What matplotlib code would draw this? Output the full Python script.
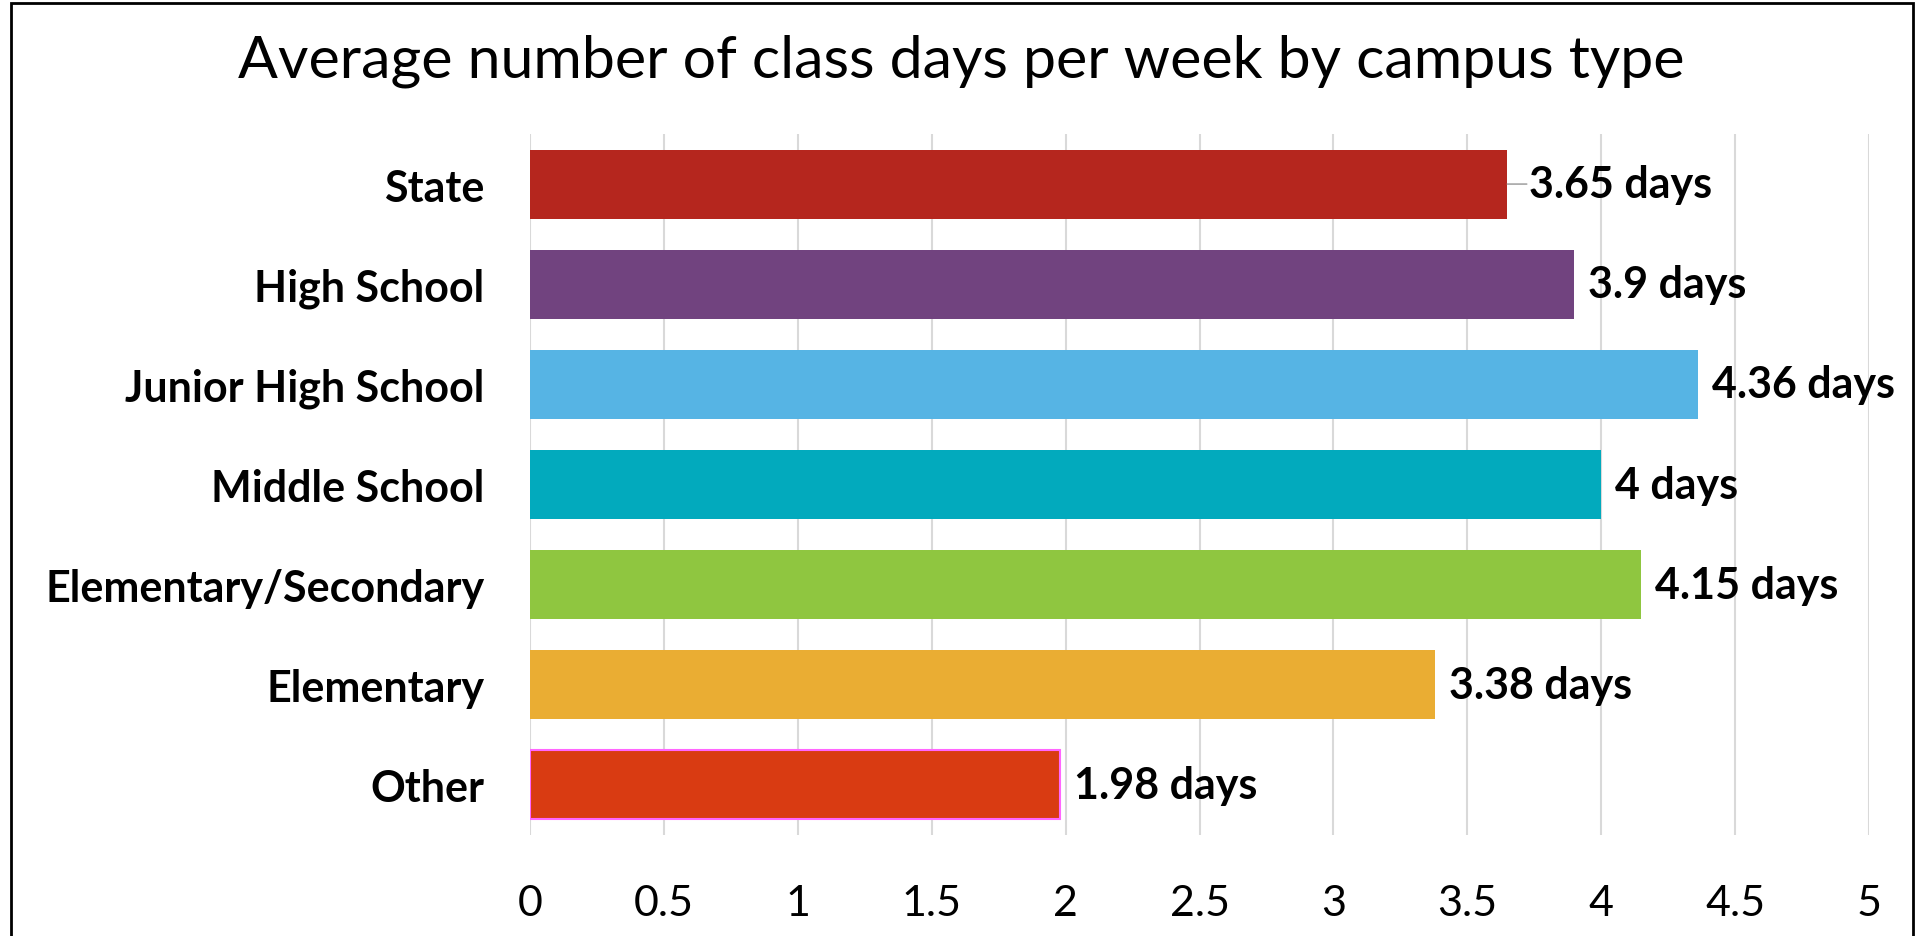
import matplotlib
matplotlib.use("Agg")
import matplotlib.pyplot as plt
from matplotlib.patches import Rectangle

plt.rcParams['font.family'] = ['Lato', 'DejaVu Sans']

# data
categories = ["State", "High School", "Junior High School", "Middle School",
              "Elementary/Secondary", "Elementary", "Other"]
days = [3.65, 3.9, 4.36, 4.0, 4.15, 3.38, 1.98]
labels = ["3.65 days", "3.9 days", "4.36 days", "4 days", "4.15 days", "3.38 days", "1.98 days"]
colors = ["#B5261E", "#71437F", "#56B4E4", "#02AABD", "#8FC640", "#EAAD33", "#D93B12"]
xticks = [0, 0.5, 1, 1.5, 2, 2.5, 3, 3.5, 4, 4.5, 5]

W, H = 1923, 937
fig = plt.figure(figsize=(W / 100, H / 100), dpi=100)
ax = fig.add_axes([530 / W, 1 - 836 / H, (1869 - 530) / W, (836 - 135) / H])

y = list(range(len(categories)))
edges = ["none"] * (len(categories) - 1) + ["#FF66FF"]
ax.barh(y, days, height=0.69, color=colors, edgecolor=edges, linewidth=1.5, zorder=3)

for i, (v, lab) in enumerate(zip(days, labels)):
    if i == 0:
        # this one sits a bit further out with a leader line
        ax.annotate(lab, xy=(v, i), xytext=(22, 0), textcoords="offset pixels",
                    va="center", ha="left", fontsize=31, fontweight="bold",
                    arrowprops=dict(arrowstyle="-", color="#A6A6A6", lw=1.2,
                                    shrinkA=0, shrinkB=0))
    else:
        ax.annotate(lab, xy=(v, i), xytext=(14, 0), textcoords="offset pixels",
                    va="center", ha="left", fontsize=31, fontweight="bold")

ax.set_xlim(0, 5)
ax.set_ylim(6.5, -0.5)
ax.set_xticks(xticks)
ax.set_xticklabels([f"{t:g}" for t in xticks], fontsize=31)
ax.set_yticks(y)
ax.set_yticklabels(categories, fontsize=31, fontweight="bold")
ax.tick_params(axis="both", length=0)
ax.tick_params(axis="x", pad=35)
ax.tick_params(axis="y", pad=33)
ax.grid(axis="x", color="#D9D9D9", linewidth=1.5, zorder=0)
for s in ax.spines.values():
    s.set_visible(False)

fig.text(0.5, 1 - 61 / H, "Average number of class days per week by campus type",
         ha="center", va="center", fontsize=42.5)

# outer chart frame, bottom edge runs off the image
fig.patches.append(Rectangle((11 / W, -0.1), (1913 - 11) / W, 1.1 - 4 / H,
                             transform=fig.transFigure, fill=False,
                             edgecolor="black", linewidth=2))

fig.savefig("out.png", dpi=100)
